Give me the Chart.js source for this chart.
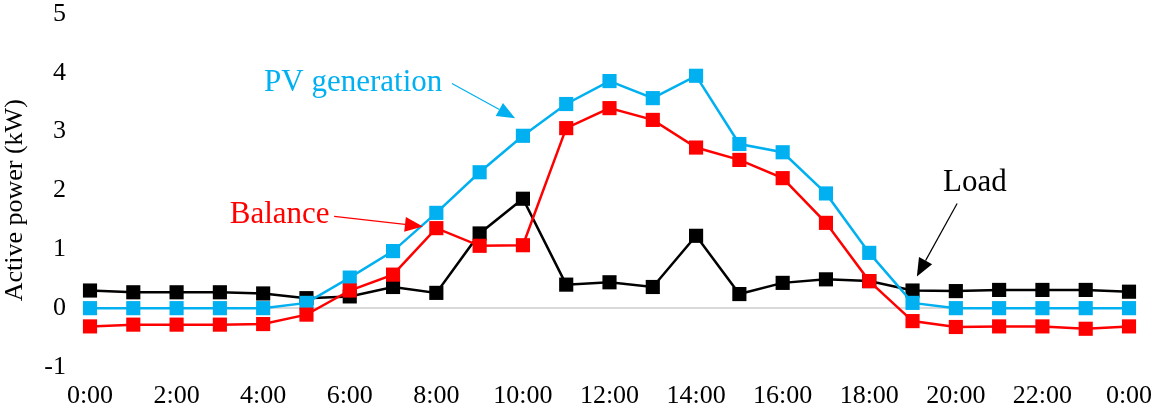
<!DOCTYPE html>
<html>
<head>
<meta charset="utf-8">
<script src="https://cdn.jsdelivr.net/npm/chart.js@4"></script>
<style>
  html, body { margin: 0; padding: 0; background: #fff; }
  #wrap { width: 1158px; height: 410px; }
</style>
</head>
<body>
<div id="wrap"><canvas id="powerChart" width="1158" height="410"></canvas></div>
<script>
// hours of the day (0..24)
const hours = [0, 1, 2, 3, 4, 5, 6, 7, 8, 9, 10, 11, 12, 13, 14, 15, 16, 17, 18, 19, 20, 21, 22, 23, 24];

// series values (kW)
const loadValues = [0.30, 0.27, 0.27, 0.27, 0.25, 0.17, 0.20, 0.36, 0.26, 1.27, 1.86, 0.40, 0.44, 0.36, 1.23,
                    0.24, 0.43, 0.49, 0.46, 0.30, 0.29, 0.31, 0.31, 0.31, 0.28];
const pvValues = [0.00, 0.00, 0.00, 0.00, 0.00, 0.09, 0.52, 0.97, 1.62, 2.31, 2.93, 3.47, 3.86, 3.57, 3.95,
                  2.79, 2.65, 1.95, 0.94, 0.09, 0.00, 0.00, 0.00, 0.00, 0.00];
const balanceValues = [-0.31, -0.28, -0.28, -0.28, -0.27, -0.11, 0.30, 0.57, 1.36, 1.06, 1.07, 3.06, 3.40, 3.20, 2.73,
                       2.52, 2.21, 1.45, 0.46, -0.22, -0.32, -0.31, -0.31, -0.35, -0.31];

// axis ticks
const xTicks = [0, 2, 4, 6, 8, 10, 12, 14, 16, 18, 20, 22, 24];
const yTicks = [-1, 0, 1, 2, 3, 4, 5];

const font = "'Liberation Serif', 'Times New Roman', serif";

const toPoints = vals => hours.map((h, i) => ({ x: h, y: vals[i] }));

// text labels with arrows (data coordinates; text position is the baseline centre)
const notes = [
  { text: 'PV generation', color: '#00B0F0', at: [6.08, 3.69], from: [8.36, 3.82], to: [9.82, 3.23] },
  { text: 'Balance', color: '#FF0000', at: [4.38, 1.45], from: [5.64, 1.56], to: [7.69, 1.39] },
  { text: 'Load', color: '#000000', at: [20.44, 2.00], from: [20.03, 1.78], to: [19.10, 0.54] }
];

const notePlugin = {
  id: 'notes',
  afterDatasetsDraw(chart) {
    const c = chart.ctx, xs = chart.scales.x, ys = chart.scales.y;
    c.save();
    c.font = '31px ' + font;
    c.textAlign = 'center';
    c.textBaseline = 'alphabetic';
    notes.forEach(n => {
      c.fillStyle = n.color;
      c.strokeStyle = n.color;
      c.fillText(n.text, xs.getPixelForValue(n.at[0]), ys.getPixelForValue(n.at[1]));
      const x1 = xs.getPixelForValue(n.from[0]), y1 = ys.getPixelForValue(n.from[1]);
      const x2 = xs.getPixelForValue(n.to[0]), y2 = ys.getPixelForValue(n.to[1]);
      const a = Math.atan2(y2 - y1, x2 - x1);
      const len = 18, half = 7.5;
      const bx = x2 - len * Math.cos(a), by = y2 - len * Math.sin(a);
      c.lineWidth = 1.2;
      c.beginPath();
      c.moveTo(x1, y1);
      c.lineTo(bx, by);
      c.stroke();
      c.beginPath();
      c.moveTo(x2, y2);
      c.lineTo(bx + half * Math.sin(a), by - half * Math.cos(a));
      c.lineTo(bx - half * Math.sin(a), by + half * Math.cos(a));
      c.closePath();
      c.fill();
    });
    c.restore();
  }
};

const series = (label, vals, color) => ({
  label: label,
  data: toPoints(vals),
  borderColor: color,
  backgroundColor: color,
  borderWidth: 2.5,
  pointStyle: 'rect',
  pointRadius: 10,
  pointHoverRadius: 10,
  pointBorderWidth: 0,
  tension: 0,
  clip: false
});

const ctx = document.getElementById('powerChart').getContext('2d');
const powerChart = new Chart(ctx, {
  type: 'line',
  data: {
    datasets: [
      series('Balance', balanceValues, '#FF0000'),
      series('PV generation', pvValues, '#00B0F0'),
      series('Load', loadValues, '#000000')
    ]
  },
  options: {
    responsive: false,
    animation: false,
    layout: { padding: { top: 14, right: 29, left: 0, bottom: 0 } },
    plugins: {
      legend: { display: false },
      tooltip: { enabled: false }
    },
    scales: {
      x: {
        type: 'linear',
        min: 0,
        max: 24,
        afterBuildTicks: s => { s.ticks = xTicks.map(v => ({ value: v })); },
        afterFit: s => { s.height = 43; s.paddingLeft = 0; s.paddingRight = 0; },
        ticks: {
          color: '#000',
          font: { family: font, size: 26 },
          maxRotation: 0,
          autoSkip: false,
          padding: 6,
          callback: v => (v % 24) + ':00'
        },
        grid: { display: false },
        border: { display: false }
      },
      y: {
        min: -1,
        max: 5,
        afterBuildTicks: s => { s.ticks = yTicks.map(v => ({ value: v })); },
        afterFit: s => { s.width = 90; s.paddingTop = 0; s.paddingBottom = 0; },
        ticks: {
          color: '#000',
          font: { family: font, size: 26 },
          padding: 24
        },
        title: {
          display: true,
          // trailing spaces nudge the centred title a little lower, as in the original
          text: 'Active power (kW)   ',
          color: '#000',
          font: { family: font, size: 26 },
          padding: { top: 0, bottom: 0 }
        },
        grid: {
          drawTicks: false,
          lineWidth: 2,
          color: c => (c.tick && c.tick.value === 0 ? '#D9D9D9' : 'rgba(0,0,0,0)')
        },
        border: { display: false }
      }
    }
  },
  plugins: [notePlugin]
});
</script>
</body>
</html>
